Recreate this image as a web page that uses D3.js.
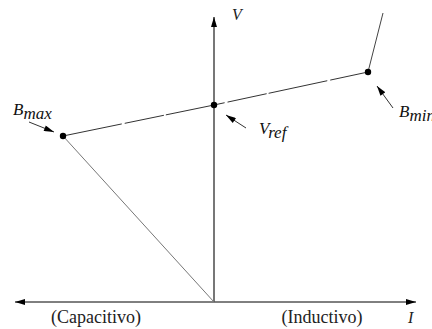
<!DOCTYPE html>
<html>
<head>
<meta charset="utf-8">
<script src="https://cdn.jsdelivr.net/npm/d3@7"></script>
<style>
  body { margin: 0; background: #fff; }
</style>
</head>
<body>
<div id="chart"></div>
<script>
// V-I characteristic (arbitrary units, origin at I=0, V=0)
const characteristic = [
  { name: 'origin', i: 0,    v: 0 },
  { name: 'Bmax',   i: -151, v: 166 },
  { name: 'Vref',   i: 0,    v: 197 },
  { name: 'Bmin',   i: 154,  v: 230 },
  { name: 'top',    i: 169,  v: 289 }
];
const markedPoints = ['Bmax', 'Vref', 'Bmin'];
const axisLabels = { v: 'V', i: 'I', left: '(Capacitivo)', right: '(Inductivo)' };

const width = 432, height = 329;
const serif = '"Liberation Serif"';

const svg = d3.select('#chart').append('svg')
  .attr('width', width).attr('height', height);

const x = d3.scaleLinear().domain([-200, 200]).range([14, 414]);
const y = d3.scaleLinear().domain([0, 290]).range([302, 12]);

const defs = svg.append('defs');
defs.append('marker')
  .attr('id', 'ah').attr('viewBox', '0 0 10 6')
  .attr('refX', 10).attr('refY', 3)
  .attr('markerWidth', 11).attr('markerHeight', 6)
  .attr('markerUnits', 'userSpaceOnUse')
  .attr('orient', 'auto-start-reverse')
  .append('path').attr('d', 'M0,0 L10,3 L0,6 Z').attr('fill', '#000');

// axes
svg.append('line')
  .attr('x1', x(-199)).attr('x2', x(202))
  .attr('y1', y(0)).attr('y2', y(0))
  .attr('stroke', '#000').attr('stroke-width', 1)
  .attr('marker-start', 'url(#ah)').attr('marker-end', 'url(#ah)');

svg.append('line')
  .attr('x1', x(0)).attr('x2', x(0))
  .attr('y1', y(0)).attr('y2', y(285))
  .attr('stroke', '#555').attr('stroke-width', 1.6)
  .attr('marker-end', 'url(#ah)');

// characteristic curve
const byName = new Map(characteristic.map(d => [d.name, d]));
const seg = (a, b) => [byName.get(a), byName.get(b)];
const line = d3.line().x(d => x(d.i)).y(d => y(d.v));

svg.append('path').datum(seg('origin', 'Bmax'))
  .attr('d', line).attr('fill', 'none')
  .attr('stroke', '#777').attr('stroke-width', 1);

svg.append('path').datum([byName.get('Bmax'), byName.get('Vref'), byName.get('Bmin')])
  .attr('d', line).attr('fill', 'none')
  .attr('stroke', '#333').attr('stroke-width', 1)
  .attr('stroke-dasharray', '60 3 40 2');

svg.append('path').datum(seg('Bmin', 'top'))
  .attr('d', line).attr('fill', 'none')
  .attr('stroke', '#444').attr('stroke-width', 1);

svg.selectAll('circle.pt')
  .data(characteristic.filter(d => markedPoints.includes(d.name)))
  .join('circle').attr('class', 'pt')
  .attr('cx', d => x(d.i)).attr('cy', d => y(d.v))
  .attr('r', 3.2).attr('fill', '#000');

// pointer arrows
const pointers = [
  { from: [29, 122], to: [54, 132] },
  { from: [246, 128], to: [226, 115] },
  { from: [393, 108], to: [377, 86] }
];
svg.selectAll('line.ptr').data(pointers).join('line').attr('class', 'ptr')
  .attr('x1', d => d.from[0]).attr('y1', d => d.from[1])
  .attr('x2', d => d.to[0]).attr('y2', d => d.to[1])
  .attr('stroke', '#333').attr('stroke-width', 1)
  .attr('marker-end', 'url(#ah)');

// labels
function subLabel(xp, yp, main, sub) {
  const t = svg.append('text').attr('x', xp).attr('y', yp)
    .style('font-family', serif)
    .attr('font-size', 17).attr('font-style', 'italic').attr('fill', '#111');
  t.append('tspan').text(main);
  t.append('tspan').attr('dy', 4).attr('font-size', 17).text(sub);
}
subLabel(13, 115, 'B', 'max');
subLabel(259, 134, 'V', 'ref');
subLabel(399, 117, 'B', 'min');

const plain = (xp, yp, txt, italic, anchor) => svg.append('text')
  .attr('x', xp).attr('y', yp).attr('text-anchor', anchor || 'start')
  .style('font-family', serif).attr('font-size', italic ? 16 : 18)
  .attr('font-style', italic ? 'italic' : 'normal').attr('fill', '#222')
  .text(txt);

plain(232, 20, axisLabels.v, true);
plain(408, 323, axisLabels.i, true);
plain(96, 323, axisLabels.left, false, 'middle');
plain(322, 323, axisLabels.right, false, 'middle');
</script>
</body>
</html>
